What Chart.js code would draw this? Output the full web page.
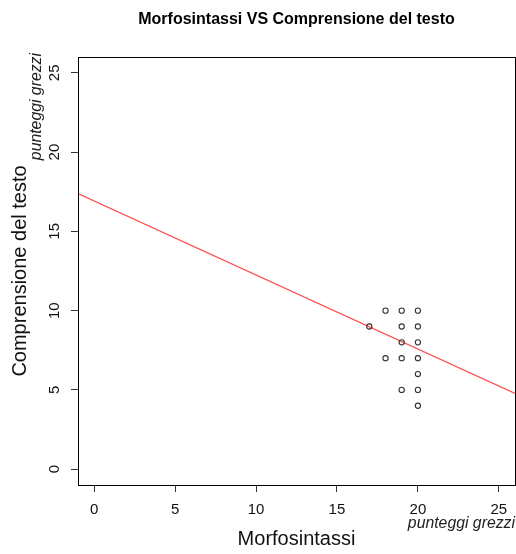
<!DOCTYPE html>
<html>
<head>
<meta charset="utf-8">
<script src="https://cdn.jsdelivr.net/npm/chart.js@4.4.1/dist/chart.umd.min.js"></script>
<style>
  html, body { margin: 0; padding: 0; background: #fff; }
  #wrap { width: 516px; height: 554px; }
</style>
</head>
<body>
<div id="wrap"><canvas id="chart" width="516" height="554"></canvas></div>
<script>
// Morfosintassi (x) vs Comprensione del testo (y), punteggi grezzi
var morfo = [18, 19, 20, 17, 19, 20, 19, 20, 18, 19, 20, 20, 19, 20, 20];
var compr = [10, 10, 10,  9,  9,  9,  8,  8,  7,  7,  7,  6,  5,  5,  4];
var xTicks = [0, 5, 10, 15, 20, 25];
var yTicks = [0, 5, 10, 15, 20, 25];
var axisMin = -1, axisMax = 26;
// regression line
var regIntercept = 16.92;
var regSlope = -0.467;

var FAMILY = '"Liberation Sans", Arial, Helvetica, sans-serif';

var points = morfo.map(function (x, i) { return { x: x, y: compr[i] }; });
var regLine = [axisMin, axisMax].map(function (x) { return { x: x, y: regIntercept + regSlope * x }; });

// R-style box + "punteggi grezzi" notes
var frame = {
  id: 'frame',
  afterDraw: function (chart) {
    var c = chart.ctx, a = chart.chartArea;
    c.save();
    c.strokeStyle = '#000';
    c.lineWidth = 1;
    c.strokeRect(Math.round(a.left) + 0.5, Math.round(a.top) + 0.5,
                 Math.round(a.right - a.left), Math.round(a.bottom - a.top));
    c.fillStyle = '#222';
    c.font = 'italic 15.8px ' + FAMILY;
    c.textAlign = 'right';
    c.textBaseline = 'alphabetic';
    c.fillText('punteggi grezzi', a.right, 528);
    c.translate(40.5, a.top - 4);
    c.rotate(-Math.PI / 2);
    c.fillText('punteggi grezzi', 0, 0);
    c.restore();
  }
};

new Chart(document.getElementById('chart').getContext('2d'), {
  type: 'scatter',
  data: {
    datasets: [{
      label: 'punteggi',
      data: points,
      pointStyle: 'circle',
      pointRadius: 2.6,
      borderColor: '#333',
      backgroundColor: 'rgba(0,0,0,0)',
      borderWidth: 1.1
    }, {
      type: 'line',
      label: 'retta',
      data: regLine,
      borderColor: '#ff4d4d',
      borderWidth: 1.2,
      pointRadius: 0,
      fill: false
    }]
  },
  options: {
    responsive: false,
    animation: false,
    layout: { autoPadding: false, padding: { left: 0, right: 1, top: 0, bottom: 0 } },
    plugins: {
      legend: { display: false },
      tooltip: { enabled: false },
      title: {
        display: true,
        fullSize: false,   // centre over the plot region, like R
        text: 'Morfosintassi VS Comprensione del testo',
        color: '#000',
        font: { family: FAMILY, size: 16, weight: 'bold' },
        padding: { top: 10, bottom: 27.8 }
      }
    },
    scales: {
      x: {
        type: 'linear', min: axisMin, max: axisMax,
        afterBuildTicks: function (s) { s.ticks = xTicks.map(function (v) { return { value: v }; }); },
        afterFit: function (s) { s.height = 69; s.paddingLeft = 0; s.paddingRight = 0; },
        border: { display: false },
        grid: { drawOnChartArea: false, drawTicks: true, tickLength: 7, color: '#333', lineWidth: 1 },
        ticks: { padding: 9, color: '#111', maxRotation: 0, autoSkip: false, font: { family: FAMILY, size: 15 } },
        title: { display: true, text: 'Morfosintassi', color: '#111',
                 font: { family: FAMILY, size: 20, lineHeight: 1 }, padding: { top: 0, bottom: 5 } }
      },
      y: {
        type: 'linear', min: axisMin, max: axisMax,
        afterBuildTicks: function (s) { s.ticks = yTicks.map(function (v) { return { value: v }; }); },
        afterFit: function (s) { s.width = 78; s.paddingTop = 0; s.paddingBottom = 0; },
        border: { display: false },
        grid: { drawOnChartArea: false, drawTicks: true, tickLength: 7, color: '#333', lineWidth: 1 },
        ticks: { padding: 8, color: '#111', minRotation: 90, maxRotation: 90, crossAlign: 'center',
                 autoSkip: false, font: { family: FAMILY, size: 15 } },
        title: { display: true, text: 'Comprensione del testo', color: '#111',
                 font: { family: FAMILY, size: 20, lineHeight: 1 }, padding: { top: 10.4, bottom: 0 } }
      }
    }
  },
  plugins: [frame]
});
</script>
</body>
</html>
